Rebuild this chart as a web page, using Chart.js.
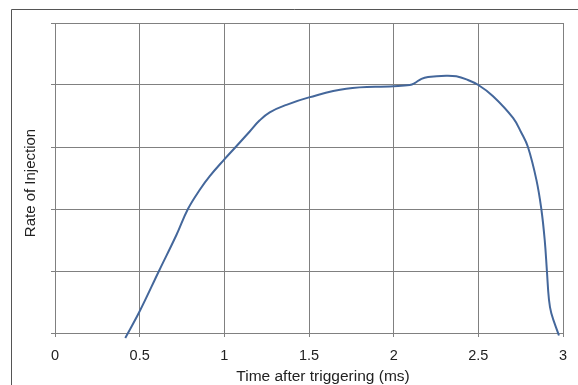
<!DOCTYPE html>
<html>
<head>
<meta charset="utf-8">
<script src="https://cdn.jsdelivr.net/npm/chart.js@4/dist/chart.umd.min.js"></script>
<style>
  html, body { margin: 0; padding: 0; background: #fff; }
  #wrap { position: relative; width: 578px; height: 385px; }
</style>
</head>
<body>
<div id="wrap"><canvas id="rateChart" width="578" height="385"></canvas></div>
<script>
// Injection rate trace, time in ms, rate in grid units (no scale shown)
const timeMs = [0.415, 0.5, 0.614, 0.717, 0.785, 0.855, 0.914, 1.0, 1.067, 1.15, 1.209, 1.268, 1.367, 1.5, 1.72,
  2.0, 2.095, 2.124, 2.164, 2.203, 2.31, 2.37, 2.43, 2.5, 2.587, 2.705, 2.754, 2.793, 2.843, 2.872, 2.892,
  2.905, 2.917, 2.931, 2.976];
const rate = [-0.08, 0.35, 1.0, 1.58, 2.0, 2.31, 2.53, 2.8, 3.0, 3.25, 3.43, 3.56, 3.68, 3.8, 3.94,
  3.98, 4.0, 4.03, 4.1, 4.13, 4.15, 4.14, 4.09, 4.0, 3.82, 3.47, 3.23, 3.0, 2.47, 2.0, 1.5,
  1.0, 0.54, 0.32, -0.04];
const xTicks = [0, 0.5, 1, 1.5, 2, 2.5, 3];
const xTitle = 'Time after triggering (ms)';
const yTitle = 'Rate of Injection';

const points = timeMs.map((t, i) => ({ x: t, y: rate[i] }));

// outer frame (left and top edges) plus the two axis titles
const framePlugin = {
  id: 'frame',
  beforeDraw(chart) {
    const ctx = chart.ctx;
    ctx.save();
    ctx.strokeStyle = '#555';
    ctx.lineWidth = 1;
    ctx.beginPath();
    ctx.moveTo(578, 9.5);
    ctx.lineTo(11.5, 9.5);
    ctx.lineTo(11.5, 385);
    ctx.stroke();
    ctx.restore();
  },
  afterDraw(chart) {
    const ctx = chart.ctx;
    ctx.save();
    ctx.fillStyle = '#222';
    ctx.textAlign = 'center';
    ctx.textBaseline = 'alphabetic';
    ctx.font = '15.5px "Liberation Sans", Arial, sans-serif';
    ctx.fillText(xTitle, 323, 381);
    ctx.translate(35, 183);
    ctx.rotate(-Math.PI / 2);
    ctx.font = '15px "Liberation Sans", Arial, sans-serif';
    ctx.fillText(yTitle, 0, 0);
    ctx.restore();
  }
};

new Chart(document.getElementById('rateChart'), {
  type: 'line',
  data: {
    datasets: [{
      data: points,
      borderColor: '#44679b',
      borderWidth: 2,
      pointRadius: 0,
      fill: false,
      tension: 0.4,
      clip: false
    }]
  },
  options: {
    responsive: false,
    animation: false,
    layout: { padding: { top: 23, right: 15, left: 0, bottom: 0 } },
    plugins: {
      legend: { display: false },
      tooltip: { enabled: false }
    },
    scales: {
      x: {
        type: 'linear',
        min: 0,
        max: 3,
        afterBuildTicks: (scale) => { scale.ticks = xTicks.map(v => ({ value: v })); },
        afterFit: (scale) => { scale.height = 52; },
        border: { display: false },
        grid: { color: '#808080', lineWidth: 1, tickLength: 4, tickColor: '#808080' },
        ticks: {
          padding: 10,
          color: '#222',
          font: { family: '"Liberation Sans", Arial, sans-serif', size: 14.5 },
          maxRotation: 0,
          callback: (v) => String(v)
        }
      },
      y: {
        min: 0,
        max: 5,
        afterFit: (scale) => { scale.width = 55; },
        border: { display: false },
        grid: { color: '#808080', lineWidth: 1, tickLength: 4, tickColor: '#808080' },
        ticks: { stepSize: 1, callback: () => '' }
      }
    }
  },
  plugins: [framePlugin]
});
</script>
</body>
</html>
